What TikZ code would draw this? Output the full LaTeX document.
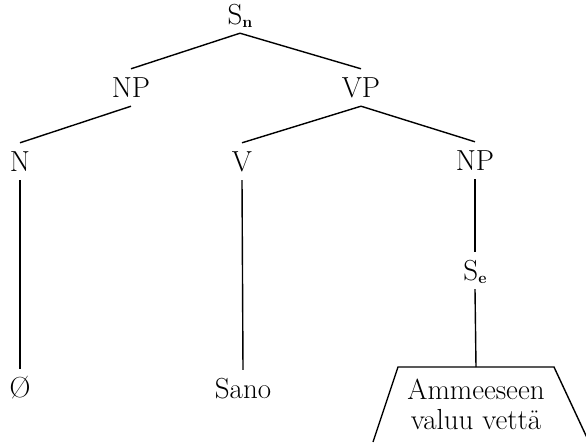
\documentclass[tikz,border=0pt]{standalone}
\begin{document}
\begin{tikzpicture}[x=1pt,y=-1pt,
  lbl/.style={anchor=base,font=\fontsize{29}{31}\selectfont,text height=19pt,text depth=0pt,inner xsep=2pt,inner ysep=9pt},
  edge/.style={line width=1.4pt},
]
\clip[use as bounding box] (0,0) rectangle (586,442);
\newcommand{\subb}[1]{\raisebox{-3pt}{\fontsize{16}{16}\selectfont\bfseries #1}}
\node[lbl] (Sn) at (240,24) {S\subb{n}};
\node[lbl] (NPl) at (131,97) {NP};
\node[lbl] (VP) at (361,97) {VP};
\node[lbl] (N) at (20,171) {N};
\node[lbl] (V) at (242,171) {V};
\node[lbl] (NPr) at (475,170) {NP};
\node[lbl] (Se) at (475,280) {S\subb{e}};
\node[lbl] (O) at (20,397) {\O};
\node[lbl] (Sano) at (243,398) {Sano};
\coordinate (tl) at (398,367);
\coordinate (tr) at (554,367);
\coordinate (bl) at (373,442);
\coordinate (br) at (589,442);
\coordinate (top) at (476,367);
\draw[edge] (bl) -- (tl) -- (tr) -- (br);
\node[font=\fontsize{29}{30}\selectfont,align=center,inner sep=0pt] (txt) at (476,404) {Ammeeseen\\valuu vettä};
\draw[edge] (Sn.south) -- (NPl.north);
\draw[edge] (Sn.south) -- (VP.north);
\draw[edge] (NPl.south) -- (N.north);
\draw[edge] (VP.south) -- (V.north);
\draw[edge] (VP.south) -- (NPr.north);
\draw[edge] (N.south) -- (O.north);
\draw[edge] (V.south) -- (Sano.north);
\draw[edge] (NPr.south) -- (Se.north);
\draw[edge] (Se.south) -- (top);
\end{tikzpicture}
\end{document}
